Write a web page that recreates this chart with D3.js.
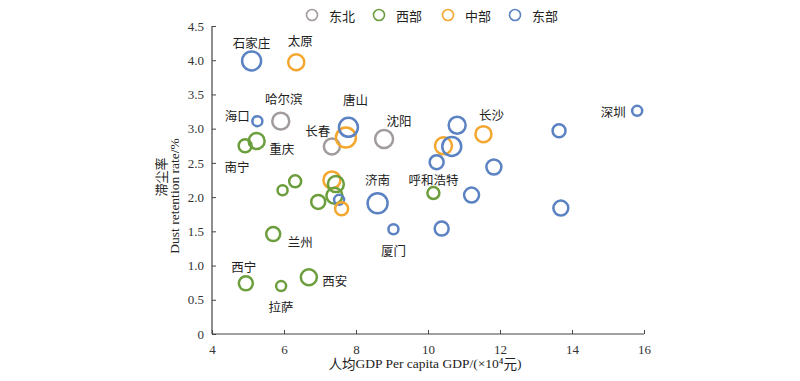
<!DOCTYPE html>
<html><head><meta charset="utf-8">
<script src="https://cdn.jsdelivr.net/npm/d3@7"></script>
<style>body{margin:0;background:#fff}</style>
</head><body>
<svg id="c" width="800" height="381"></svg>
<script>
const cities  = ["石家庄","太原","海口","哈尔滨","重庆","南宁","长春","","唐山","沈阳","","长沙","","","","","","深圳","呼和浩特","","","","济南","厦门","兰州","西宁","拉萨","西安","","","","","","","",""];
const regions = ["东部","中部","东部","东北","西部","西部","东北","中部","东部","东北","东部","中部","中部","东部","东部","东部","东部","东部","西部","东部","东部","东部","东部","东部","西部","西部","西部","西部","西部","西部","中部","西部","西部","西部","东部","中部"];
const gdp     = [5.10,6.34,5.26,5.91,5.24,4.92,7.33,7.72,7.79,8.78,10.81,11.54,10.43,10.66,10.24,11.83,13.64,15.81,10.15,11.21,13.69,10.38,8.60,9.04,5.70,4.94,5.92,6.69,5.96,6.31,7.33,7.44,7.40,6.95,7.53,7.60];
const dust    = [3.99,3.97,3.11,3.11,2.82,2.75,2.74,2.87,3.02,2.85,3.05,2.92,2.75,2.74,2.51,2.44,2.97,3.26,2.06,2.03,1.84,1.54,1.91,1.53,1.46,0.74,0.70,0.83,2.10,2.23,2.25,2.19,2.02,1.93,1.96,1.83];
const bubble  = [90,64,25,72,64,42,64,100,90,81,72,64,72,90,49,56,42,25,36,56,56,49,100,25,49,49,25,64,25,36,72,64,64,49,25,42];
const legendNames = ["东北","西部","中部","东部"];
const xTicks = [4,6,8,10,12,14,16];
const yTicks = [0,0.5,1.0,1.5,2.0,2.5,3.0,3.5,4.0,4.5];

const colors = {"东北":"#a19b9b","西部":"#6c9e3d","中部":"#f4a72e","东部":"#5b82c2"};
const labelOffsets = {
  "石家庄":[0,-18],"太原":[4,-22],"海口":[-20,-6],"哈尔滨":[3,-23],"重庆":[25,8],"南宁":[-8,21],
  "长春":[-14,-16],"唐山":[7,-28],"沈阳":[15,-18],"长沙":[8,-20],"深圳":[-24,1],"呼和浩特":[0,-14],
  "济南":[0,-24],"厦门":[0,21],"兰州":[27,7],"西宁":[-2,-17],"西安":[26,3],"拉萨":[0,20]
};
const cjk = "'Noto Sans CJK SC', sans-serif";
const serif = "'Liberation Serif', 'Times New Roman', serif";

const svg = d3.select("#c");
const x = d3.scaleLinear().domain([4,16]).range([212,644]);
const y = d3.scaleLinear().domain([0,4.5]).range([334,26]);
const r = d3.scaleSqrt().domain([0,100]).range([0,10]);

const axisColor = "#444";
const gx = svg.append("g").attr("transform","translate(0,334)")
  .call(d3.axisBottom(x).tickValues(xTicks).tickSize(-4).tickPadding(8).tickFormat(d3.format("d")));
const gy = svg.append("g").attr("transform","translate(212,0)")
  .call(d3.axisLeft(y).tickValues(yTicks).tickSize(-4).tickPadding(8).tickFormat(d => d===0 ? "0" : d3.format(".1f")(d)));
[gx,gy].forEach(g=>{
  g.select(".domain").attr("stroke",axisColor).attr("stroke-width",1.2);
  g.selectAll(".tick line").attr("stroke",axisColor);
  g.selectAll(".tick text").attr("fill","#333").style("font-family",serif).style("font-size","13px");
});
gy.select(".domain").attr("d","M0,26V334");
gx.select(".domain").attr("d","M212,0H644");
gx.selectAll(".tick text").attr("dy","0.9em");

const idx = d3.range(gdp.length);
svg.append("g").selectAll("circle").data(idx).join("circle")
  .attr("cx", i=>x(gdp[i])).attr("cy", i=>y(dust[i])).attr("r", i=>r(bubble[i]))
  .attr("fill","none").attr("stroke", i=>colors[regions[i]]).attr("stroke-width",2.5);

svg.append("g").selectAll("text").data(idx.filter(i=>cities[i])).join("text")
  .attr("x", i=>x(gdp[i])+labelOffsets[cities[i]][0])
  .attr("y", i=>y(dust[i])+labelOffsets[cities[i]][1])
  .attr("text-anchor","middle").attr("dominant-baseline","central")
  .style("font-family",cjk).style("font-size","12.5px").attr("fill","#222")
  .text(i=>cities[i]);

// legend
const legX = [312,379,448,515];
const leg = svg.append("g");
legendNames.forEach((n,k)=>{
  leg.append("circle").attr("cx",legX[k]).attr("cy",15).attr("r",5.5)
    .attr("fill","none").attr("stroke",colors[n]).attr("stroke-width",1.6);
  leg.append("text").attr("x",legX[k]+17).attr("y",15).attr("dominant-baseline","central")
    .style("font-family",cjk).style("font-size","13px").attr("fill","#222").text(n);
});

// axis titles
const xt = svg.append("text").attr("x",425).attr("y",363).attr("text-anchor","middle")
  .attr("dominant-baseline","central").attr("fill","#222").style("font-size","13.5px");
xt.append("tspan").style("font-family",cjk).text("人均");
xt.append("tspan").style("font-family",serif).text("GDP Per capita GDP/(×10⁴");
xt.append("tspan").style("font-family",cjk).text("元");
xt.append("tspan").style("font-family",serif).text(")");

svg.append("text").attr("transform","translate(160,177) rotate(-90)").attr("text-anchor","middle")
  .attr("dominant-baseline","central").style("font-family",cjk).style("font-size","13px").attr("fill","#222").text("滞尘率");
svg.append("text").attr("transform","translate(174,196) rotate(-90)").attr("text-anchor","middle")
  .attr("dominant-baseline","central").style("font-family",serif).style("font-size","13.5px").attr("fill","#222").text("Dust retention rate/%");
</script>
</body></html>
